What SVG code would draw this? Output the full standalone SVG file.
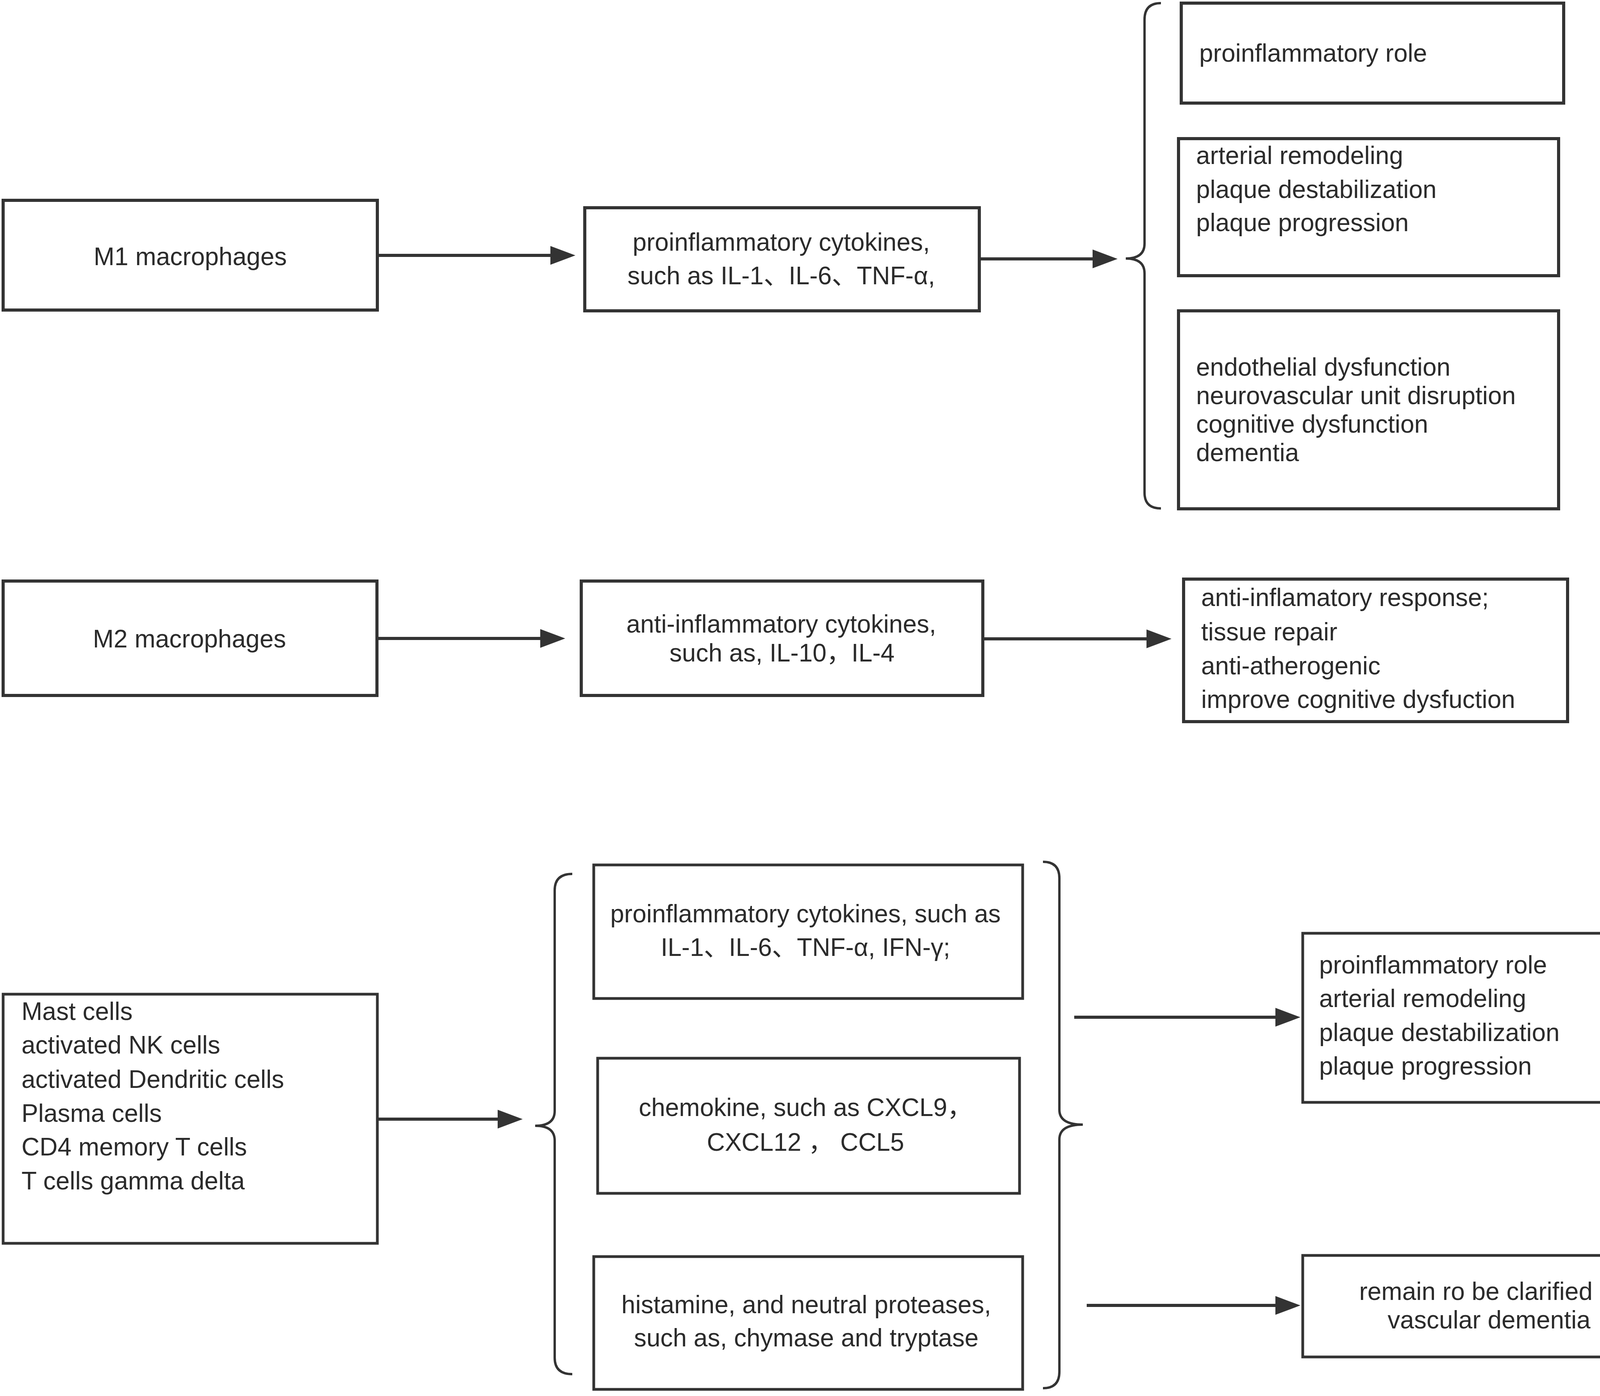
<svg xmlns="http://www.w3.org/2000/svg" width="4317" height="3575" viewBox="0 0 4317 3575">
<style>
.box{fill:#fff;stroke:#333;stroke-width:8}
.box2{fill:#fff;stroke:#333;stroke-width:7}
.t{font-family:"Liberation Sans","Noto Sans CJK SC",sans-serif;font-size:64px;fill:#2b2b2b}
.c{text-anchor:middle}
.line{stroke:#333;stroke-width:8;fill:none}
.brace{stroke:#333;stroke-width:6;fill:none}
</style>
<defs>
<marker id="ah" markerUnits="userSpaceOnUse" viewBox="0 0 64 48" refX="34" refY="24" markerWidth="64" markerHeight="48" orient="auto">
<path d="M0,0 L64,24 L0,48 Z" fill="#333"/>
</marker>
</defs>
<rect width="4317" height="3575" fill="#fff"/>

<g id="connectors">
<line class="line" x1="966" y1="654" x2="1443" y2="654" marker-end="url(#ah)"/>
<line class="line" x1="2507" y1="663" x2="2831" y2="663" marker-end="url(#ah)"/>
<line class="line" x1="965" y1="1635" x2="1417" y2="1635" marker-end="url(#ah)"/>
<line class="line" x1="2516" y1="1636" x2="2969" y2="1636" marker-end="url(#ah)"/>
<line class="line" x1="966" y1="2866" x2="1308" y2="2866" marker-end="url(#ah)"/>
<line class="line" x1="2750" y1="2605" x2="3299" y2="2605" marker-end="url(#ah)"/>
<line class="line" x1="2782" y1="3343" x2="3299" y2="3343" marker-end="url(#ah)"/>
<path class="brace" d="M2972,8 Q2930,8 2930,50 L2930,624 Q2930,662 2882,662 Q2930,662 2930,700 L2930,1262 Q2930,1302 2972,1302"/>
<path class="brace" d="M1465,2238 Q1420,2238 1420,2280 L1420,2845 Q1420,2883 1370,2883 Q1420,2883 1420,2921 L1420,3477 Q1420,3519 1465,3519"/>
<path class="brace" d="M2670,2207 Q2712,2207 2712,2249 L2712,2842 Q2712,2880 2772,2880 Q2712,2880 2712,2918 L2712,3513 Q2712,3555 2670,3555"/>
</g>

<g id="m1">
<rect class="box" x="8" y="513" width="958" height="281"/>
<text class="t c" x="487" y="679">M1 macrophages</text>
</g>
<g id="m1-cytokines">
<rect class="box" x="1497" y="532" width="1010" height="264"/>
<text class="t c" x="2000" y="642">proinflammatory cytokines,</text>
<text class="t c" x="2000" y="728">such as IL-1、IL-6、TNF-α,</text>
</g>
<g id="m1-role">
<rect class="box" x="3024" y="8" width="979" height="256"/>
<text class="t" x="3070" y="158">proinflammatory role</text>
</g>
<g id="m1-plaque">
<rect class="box" x="3017" y="355" width="973" height="351"/>
<text class="t" x="3062" y="420">arterial remodeling</text>
<text class="t" x="3062" y="507">plaque destabilization</text>
<text class="t" x="3062" y="592">plaque progression</text>
</g>
<g id="m1-dementia">
<rect class="box" x="3017" y="796" width="973" height="507"/>
<text class="t" x="3062" y="962">endothelial dysfunction</text>
<text class="t" x="3062" y="1035">neurovascular unit disruption</text>
<text class="t" x="3062" y="1108">cognitive dysfunction</text>
<text class="t" x="3062" y="1181">dementia</text>
</g>

<g id="m2">
<rect class="box" x="8" y="1488" width="957" height="293"/>
<text class="t c" x="485" y="1658">M2 macrophages</text>
</g>
<g id="m2-cytokines">
<rect class="box" x="1488" y="1488" width="1028" height="293"/>
<text class="t c" x="2000" y="1620">anti-inflammatory cytokines,</text>
<text class="t c" x="2002" y="1694">such as, IL-10，IL-4</text>
</g>
<g id="m2-effects">
<rect class="box" x="3030" y="1483" width="983" height="365"/>
<text class="t" x="3075" y="1552">anti-inflamatory response;</text>
<text class="t" x="3075" y="1640">tissue repair</text>
<text class="t" x="3075" y="1727">anti-atherogenic</text>
<text class="t" x="3075" y="1813">improve cognitive dysfuction</text>
</g>

<g id="cells">
<rect class="box2" x="8" y="2546" width="958" height="638"/>
<text class="t" x="55" y="2612">Mast cells</text>
<text class="t" x="55" y="2698">activated NK cells</text>
<text class="t" x="55" y="2786">activated Dendritic cells</text>
<text class="t" x="55" y="2873">Plasma cells</text>
<text class="t" x="55" y="2959">CD4 memory T cells</text>
<text class="t" x="55" y="3046">T cells gamma delta</text>
</g>
<g id="cells-cytokines">
<rect class="box2" x="1520" y="2215" width="1098" height="342"/>
<text class="t c" x="2062" y="2362">proinflammatory cytokines, such as</text>
<text class="t c" x="2062" y="2448">IL-1、IL-6、TNF-α, IFN-γ;</text>
</g>
<g id="cells-chemokine">
<rect class="box2" x="1530" y="2710" width="1080" height="346"/>
<text class="t c" x="2062" y="2858">chemokine, such as CXCL9，</text>
<text class="t c" x="2062" y="2947">CXCL12 ， CCL5</text>
</g>
<g id="cells-histamine">
<rect class="box2" x="1520" y="3218" width="1098" height="340"/>
<text class="t c" x="2064" y="3363">histamine, and neutral proteases,</text>
<text class="t c" x="2064" y="3448">such as, chymase and tryptase</text>
</g>
<g id="cells-role">
<rect class="box2" x="3335" y="2390" width="964" height="433"/>
<text class="t" x="3377" y="2493">proinflammatory role</text>
<text class="t" x="3377" y="2579">arterial remodeling</text>
<text class="t" x="3377" y="2666">plaque destabilization</text>
<text class="t" x="3377" y="2752">plaque progression</text>
</g>
<g id="cells-unclear">
<rect class="box2" x="3335" y="3215" width="970" height="260"/>
<text class="t c" x="3812" y="3329">remain ro be clarified in</text>
<text class="t c" x="3812" y="3402">vascular dementia</text>
</g>
</svg>
